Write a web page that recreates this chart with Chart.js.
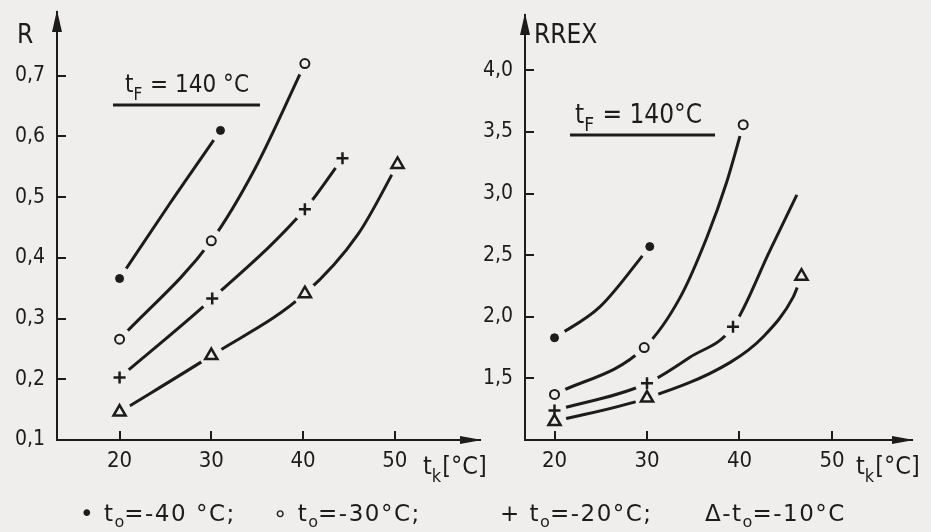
<!DOCTYPE html>
<html>
<head>
<meta charset="utf-8">
<script src="https://cdn.jsdelivr.net/npm/chart.js@4/dist/chart.umd.min.js"></script>
<style>
  body { margin: 0; width: 931px; height: 532px; overflow: hidden; position: relative; background: #efeeec; color: #1c1c1c; font-family: "DejaVu Sans", sans-serif; }
  canvas { position: absolute; top: 0; }
  #left { left: 0; }
  #right { left: 482px; }
  .leg { position: absolute; top: 502px; font-size: 23px; letter-spacing: 1.5px; line-height: 1; white-space: nowrap; }
  .leg sub { font-size: 70%; vertical-align: -0.35em; line-height: 0; letter-spacing: 0; }
</style>
</head>
<body>
<canvas id="left" width="492" height="532"></canvas>
<canvas id="right" width="449" height="532"></canvas>
<div class="leg" style="left:80px">• t<sub>o</sub>=-40 °C;</div>
<div class="leg" style="left:273px">∘ t<sub>o</sub>=-30°C;</div>
<div class="leg" style="left:500px">+ t<sub>o</sub>=-20°C;</div>
<div class="leg" style="left:705px">Δ-t<sub>o</sub>=-10°C</div>
<script>
const fam = '"DejaVu Sans Condensed", "DejaVu Sans", sans-serif';
const bg = '#efeeec';
const ink = '#1c1c1c';

// condenser temperature t_k ticks
const tkTicks = [20, 30, 40, 50];

// left panel: R
const rTicks = [0.1, 0.2, 0.3, 0.4, 0.5, 0.6, 0.7];
const rT40 = [20, 25.5, 31];
const rV40 = [0.366, 0.49, 0.61];
const rM40 = [1, 0, 1];
const rT30 = [20, 30, 34.8, 40.2];
const rV30 = [0.266, 0.428, 0.548, 0.72];
const rM30 = [1, 1, 0, 1];
const rT20 = [20, 30.1, 40.2, 44.3];
const rV20 = [0.203, 0.333, 0.48, 0.564];
const rM20 = [1, 1, 1, 1];
const rT10 = [20, 30, 40.2, 46, 50.3];
const rV10 = [0.146, 0.239, 0.341, 0.439, 0.554];
const rM10 = [1, 1, 1, 0, 1];

// right panel: RREX
const eTicks = [1.5, 2.0, 2.5, 3.0, 3.5, 4.0];
const eT40 = [20, 24.9, 30.3];
const eV40 = [1.83, 2.08, 2.57];
const eM40 = [1, 0, 1];
const eT30 = [20, 29.7, 33.6, 36.5, 38.6, 40.4];
const eV30 = [1.37, 1.75, 2.16, 2.65, 3.09, 3.56];
const eM30 = [1, 1, 0, 0, 0, 1];
const eT20 = [20, 30, 34.6, 39.3, 43.3, 46.2];
const eV20 = [1.24, 1.46, 1.67, 1.92, 2.54, 2.99];
const eM20 = [1, 1, 0, 1, 0, 0];
const eT10 = [20, 30, 39.0, 42.6, 45.8, 46.7];
const eV10 = [1.15, 1.34, 1.63, 1.84, 2.16, 2.33];
const eM10 = [1, 1, 0, 0, 0, 1];

// marker look for t_o = -40, -30, -20, -10
const marks = [
  { style: 'circle', r: 4, fill: ink, bw: 1 },
  { style: 'circle', r: 4.5, fill: bg, bw: 2 },
  { style: 'cross', r: 6, fill: ink, bw: 2.5 },
  { style: 'triangle', r: 7, fill: bg, bw: 2.5 }
];

function pts(t, v, m) {
  return t.map((x, i) => ({ x: x, y: v[i] })).filter((p, i) => !m || m[i]);
}

function buildSets(series) {
  const out = [];
  series.forEach(([t, v, m], i) => {
    const mk = marks[i];
    out.push({ data: pts(t, v), borderColor: ink, borderWidth: 3, pointRadius: 0,
      cubicInterpolationMode: 'monotone', fill: false, order: 3, clip: false });
    // blank halo so the curve stops short of each marker
    out.push({ data: pts(t, v, m), showLine: false, pointStyle: 'circle', pointRadius: 12,
      pointBackgroundColor: bg, pointBorderColor: bg, pointBorderWidth: 0, order: 2, clip: false });
    out.push({ data: pts(t, v, m), showLine: false, pointStyle: mk.style, pointRadius: mk.r,
      pointBackgroundColor: mk.fill, pointBorderColor: ink, pointBorderWidth: mk.bw, order: 1, clip: false });
  });
  return out;
}

function subText(ctx, x, y, main, sub, rest, size) {
  ctx.font = size + 'px ' + fam;
  ctx.fillText(main, x, y);
  let w = ctx.measureText(main).width;
  ctx.font = Math.round(size * 0.72) + 'px ' + fam;
  ctx.fillText(sub, x + w, y + size * 0.32);
  w += ctx.measureText(sub).width;
  ctx.font = size + 'px ' + fam;
  ctx.fillText(rest, x + w + 1, y);
}

function makeDeco(cfg) {
  return {
    id: 'deco',
    afterDraw(chart) {
      const { ctx, chartArea: a, scales: { x, y } } = chart;
      ctx.save();
      ctx.strokeStyle = ink;
      ctx.fillStyle = ink;
      ctx.lineWidth = 2;
      // tick marks pointing into the plot
      ctx.beginPath();
      x.ticks.forEach(t => {
        const px = Math.round(x.getPixelForValue(t.value));
        ctx.moveTo(px, a.bottom); ctx.lineTo(px, a.bottom - 9);
      });
      y.ticks.forEach(t => {
        const py = Math.round(y.getPixelForValue(t.value));
        if (py < a.bottom - 3) { ctx.moveTo(a.left, py); ctx.lineTo(a.left + 9, py); }
      });
      ctx.stroke();
      // arrow heads
      ctx.beginPath();
      ctx.moveTo(a.left, a.top - 2); ctx.lineTo(a.left - 5, a.top + 20); ctx.lineTo(a.left + 5, a.top + 20); ctx.closePath();
      ctx.moveTo(a.right + 2, a.bottom); ctx.lineTo(a.right - 20, a.bottom - 4); ctx.lineTo(a.right - 20, a.bottom + 4); ctx.closePath();
      ctx.fill();
      ctx.textAlign = 'left';
      ctx.textBaseline = 'alphabetic';
      ctx.font = '26px ' + fam;
      ctx.fillText(cfg.yTitle, cfg.yTitleX, 43);
      subText(ctx, cfg.xTitleX, 474, 't', 'k', '[°C]', 25);
      subText(ctx, cfg.annX, cfg.annY, 't', 'F', cfg.annRest, cfg.annSize);
      ctx.lineWidth = 3;
      ctx.beginPath();
      ctx.moveTo(cfg.ul[0], cfg.ul[2]); ctx.lineTo(cfg.ul[1], cfg.ul[2]);
      ctx.stroke();
      ctx.restore();
    }
  };
}

function makeChart(id, sets, xr, yr, yTicks, yWidth, pad, deco) {
  new Chart(document.getElementById(id), {
    type: 'line',
    data: { datasets: sets },
    plugins: [deco],
    options: {
      responsive: false,
      animation: false,
      events: [],
      layout: { padding: pad },
      plugins: { legend: { display: false }, tooltip: { enabled: false } },
      scales: {
        x: {
          type: 'linear', min: xr[0], max: xr[1],
          afterBuildTicks: s => { s.ticks = tkTicks.map(v => ({ value: v })); },
          afterFit: s => { s.height = 40; s.paddingLeft = 0; s.paddingRight = 0; },
          grid: { display: false, drawTicks: false },
          border: { display: true, color: ink, width: 2 },
          ticks: { color: ink, font: { family: fam, size: 22 }, padding: 8, maxRotation: 0, autoSkip: false,
            callback: v => String(v) }
        },
        y: {
          type: 'linear', min: yr[0], max: yr[1],
          afterBuildTicks: s => { s.ticks = yTicks.map(v => ({ value: v })); },
          afterFit: s => { s.width = yWidth; s.paddingTop = 0; s.paddingBottom = 0; },
          grid: { display: false, drawTicks: false },
          border: { display: true, color: ink, width: 2 },
          ticks: { color: ink, font: { family: fam, size: 21 }, padding: 12, autoSkip: false,
            callback: v => v.toFixed(1).replace('.', ',') }
        }
      }
    }
  });
}

makeChart('left',
  buildSets([[rT40, rV40, rM40], [rT30, rV30, rM30], [rT20, rV20, rM20], [rT10, rV10, rM10]]),
  [13.18, 59.29], [0.1, 0.805], rTicks, 57,
  { left: 0, right: 9, top: 10, bottom: 52 },
  makeDeco({ yTitle: 'R', yTitleX: 17, xTitleX: 423, annX: 125, annY: 92, annRest: ' = 140 °C', annSize: 24, ul: [113, 260, 105] }));

makeChart('right',
  buildSets([[eT40, eV40, eM40], [eT30, eV30, eM30], [eT20, eV20, eM20], [eT10, eV10, eM10]]),
  [16.81, 58.65], [1.0, 4.45], eTicks, 43,
  { left: 0, right: 19, top: 15, bottom: 52 },
  makeDeco({ yTitle: 'RREX', yTitleX: 52, xTitleX: 374, annX: 93, annY: 123, annRest: ' = 140°C', annSize: 26, ul: [88, 233, 135] }));
</script>
</body>
</html>
